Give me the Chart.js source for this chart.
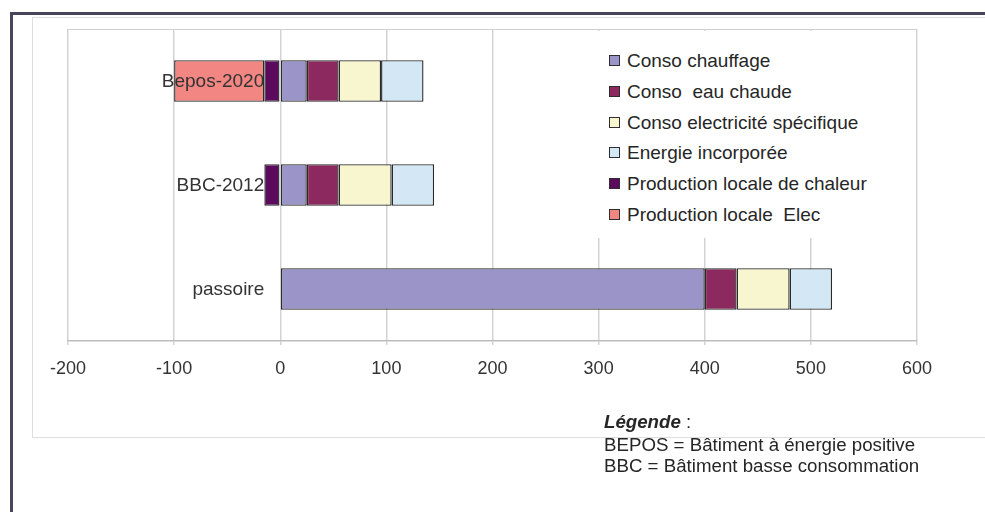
<!DOCTYPE html>
<html lang="fr">
<head>
<meta charset="utf-8">
<title>Bilan énergétique par type de bâtiment</title>
<script src="https://cdn.jsdelivr.net/npm/chart.js@4.4.1/dist/chart.umd.min.js"></script>
<style>
  html, body { margin: 0; padding: 0; background: #fff; }
  body {
    width: 985px; height: 512px; position: relative; overflow: hidden;
    font-family: "Liberation Sans", Arial, sans-serif; color: #2a2a2a;
  }
  #frame {
    position: absolute; left: 10px; top: 12px; right: -20px; bottom: -20px;
    border-left: 3px solid #47455b; border-top: 3px solid #47455b;
  }
  #panel {
    position: absolute; left: 32px; top: 17px; right: -20px; height: 419px;
    border: 1px solid #dedede;
  }
  #plotTop {
    position: absolute; left: 68px; top: 29px; width: 849px; height: 0;
    border-top: 1px solid #cfcfcf;
  }
  #wrap { position: absolute; left: 0; top: 0; width: 985px; height: 512px; }
  #legend {
    position: absolute; left: 592px; top: 31px; width: 292px; height: 207px;
    background: #fff;
  }
  .item {
    position: absolute; left: 17px; height: 20px; line-height: 20px;
    font-size: 19px; white-space: pre; color: #262626;
  }
  .sw {
    display: inline-block; width: 9px; height: 9px; box-sizing: content-box;
    border: 1px solid #2e2e2e; margin-right: 7px; vertical-align: 1px;
  }
  .note {
    position: absolute; left: 604px; font-size: 18.7px; line-height: 20px;
    white-space: pre; color: #262626;
  }
  .note b { font-style: italic; }
</style>
</head>
<body>
<div id="frame"></div>
<div id="panel"></div>
<div id="plotTop"></div>
<div id="wrap"><canvas id="chart"></canvas></div>
<div id="legend"></div>
<div class="note" style="top:412px"><b>Légende</b> :</div>
<div class="note" style="top:435px">BEPOS = Bâtiment à énergie positive</div>
<div class="note" style="top:456px">BBC = Bâtiment basse consommation</div>

<script>
// Building types, top to bottom
const categories = ['Bepos-2020', 'BBC-2012', 'passoire'];

// Consumption (positive) and local production (negative), kWh/m²/an
const consoChauffage       = [25, 25, 400];
const consoEauChaude       = [30, 30, 30];
const consoElecSpecifique  = [40, 50, 50];
const energieIncorporee    = [40, 40, 40];
const productionChaleur    = [-15, -15, null];
const productionElec       = [-85, null, null];

// Value axis ticks
const axisTicks = [-200, -100, 0, 100, 200, 300, 400, 500, 600];

const seriesNames = [
  'Conso chauffage',
  'Conso  eau chaude',
  'Conso electricité spécifique',
  'Energie incorporée',
  'Production locale de chaleur',
  'Production locale  Elec'
];
const seriesColors = ['#9b94c9', '#8c2a5f', '#f8f6cf', '#d3e7f5', '#5b0a5e', '#f28682'];
const seriesValues = [
  consoChauffage, consoEauChaude, consoElecSpecifique,
  energieIncorporee, productionChaleur, productionElec
];

const FONT = '"Liberation Sans", Arial, sans-serif';
Chart.defaults.font.family = FONT;
Chart.defaults.color = '#333';

// Category names sit just left of the zero line, over the bars
const categoryLabels = {
  id: 'categoryLabels',
  afterDatasetsDraw(chart) {
    const { ctx, scales: { x, y } } = chart;
    const right = x.getPixelForValue(0) - 16;
    ctx.save();
    ctx.font = '19px ' + FONT;
    ctx.fillStyle = '#333';
    ctx.textAlign = 'right';
    ctx.textBaseline = 'middle';
    chart.data.labels.forEach((lab, i) => {
      ctx.fillText(lab, right, y.getPixelForValue(i) + 1);
    });
    ctx.restore();
  }
};

const chart = new Chart(document.getElementById('chart'), {
  type: 'bar',
  data: {
    labels: categories,
    datasets: seriesNames.map((name, i) => ({
      label: name,
      data: seriesValues[i],
      backgroundColor: seriesColors[i],
      borderColor: '#2a2a2a',
      borderWidth: 1.4,
      borderSkipped: false,
      barPercentage: 0.4,
      categoryPercentage: 1.0
    }))
  },
  options: {
    indexAxis: 'y',
    responsive: true,
    maintainAspectRatio: false,
    devicePixelRatio: 1,
    animation: false,
    layout: { padding: { left: 68, right: 68, top: 29, bottom: 131 } },
    plugins: { legend: { display: false }, tooltip: { enabled: false } },
    scales: {
      x: {
        type: 'linear',
        stacked: true,
        min: axisTicks[0],
        max: axisTicks[axisTicks.length - 1],
        afterBuildTicks(scale) { scale.ticks = axisTicks.map(v => ({ value: v })); },
        afterFit(scale) { scale.height = 40; },
        ticks: {
          padding: 13,
          color: '#333',
          font: { size: 18 },
          callback: v => String(v)
        },
        grid: { color: '#d3d3d3', lineWidth: 1.5, tickLength: 4 },
        border: { color: '#bdbdbd', width: 1.5 }
      },
      y: {
        type: 'category',
        stacked: true,
        display: false
      }
    }
  },
  plugins: [categoryLabels]
});

// Legend built from the chart's own series
const legendBox = document.getElementById('legend');
chart.data.datasets.forEach((ds, i) => {
  const row = document.createElement('div');
  row.className = 'item';
  row.style.top = (19.7 + i * 30.9) + 'px';
  const sw = document.createElement('span');
  sw.className = 'sw';
  sw.style.background = ds.backgroundColor;
  row.appendChild(sw);
  row.appendChild(document.createTextNode(ds.label));
  legendBox.appendChild(row);
});
</script>
</body>
</html>
